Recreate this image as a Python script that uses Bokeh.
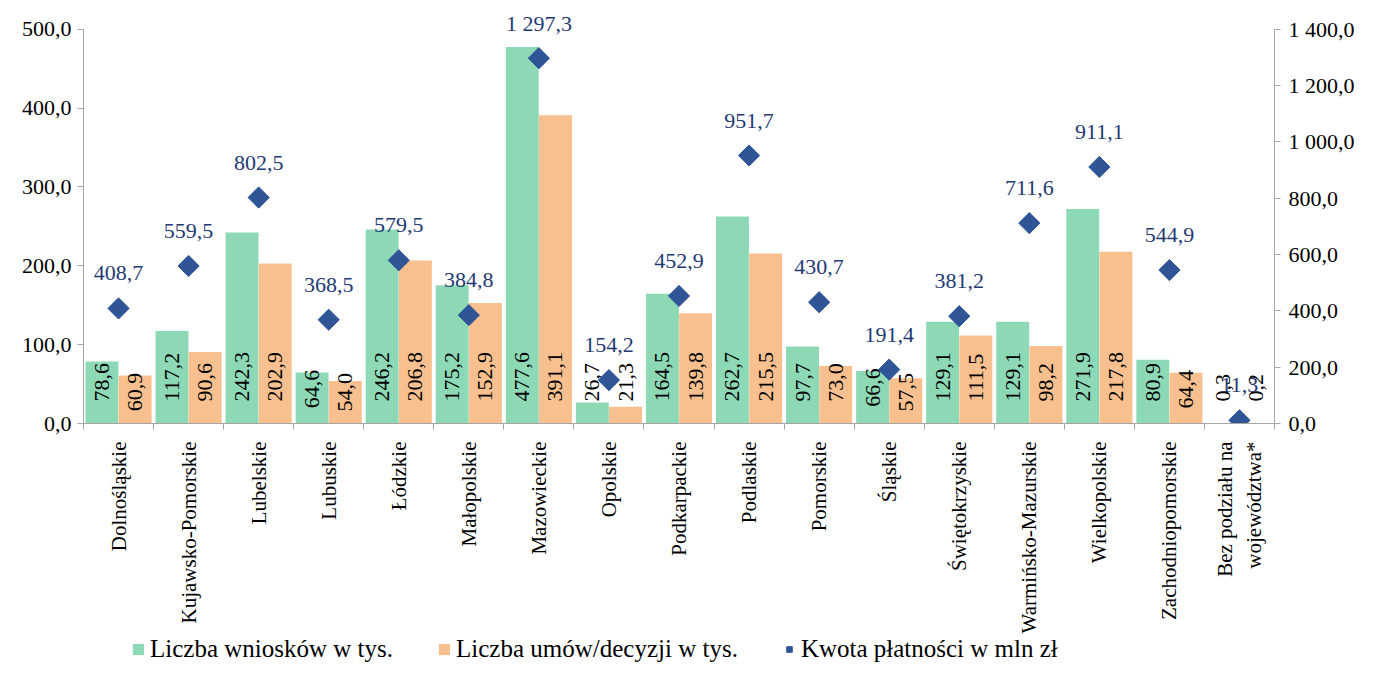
import math
from bokeh.plotting import figure
from bokeh.layouts import column
from bokeh.models import (ColumnDataSource, Range1d, LinearAxis, FixedTicker,
                          Legend, LegendItem)
from bokeh.core.properties import value
from bokeh.embed import file_html
from bokeh.resources import INLINE

categories = ["Dolnośląskie", "Kujawsko-Pomorskie", "Lubelskie", "Lubuskie",
              "Łódzkie", "Małopolskie", "Mazowieckie", "Opolskie",
              "Podkarpackie", "Podlaskie", "Pomorskie", "Śląskie",
              "Świętokrzyskie", "Warmińsko-Mazurskie", "Wielkopolskie",
              "Zachodniopomorskie", "Bez podziału na\nwojewództwa*"]
wnioski = [78.6, 117.2, 242.3, 64.6, 246.2, 175.2, 477.6, 26.7, 164.5, 262.7,
           97.7, 66.6, 129.1, 129.1, 271.9, 80.9, 0.3]
umowy = [60.9, 90.6, 202.9, 54.0, 206.8, 152.9, 391.1, 21.3, 139.8, 215.5,
         73.0, 57.5, 111.5, 98.2, 217.8, 64.4, 0.2]
kwota = [408.7, 559.5, 802.5, 368.5, 579.5, 384.8, 1297.3, 154.2, 452.9, 951.7,
         430.7, 191.4, 381.2, 711.6, 911.1, 544.9, 11.3]
left_ticks = [0, 100, 200, 300, 400, 500]
right_ticks = [0, 200, 400, 600, 800, 1000, 1200, 1400]
series_names = ["Liczba wniosków w tys.", "Liczba umów/decyzji w tys.",
                "Kwota płatności w mln zł"]

FONT = "Liberation Serif"
GREEN = "#8DD9B6"
ORANGE = "#F9C08F"
BLUE = "#2F5597"
NAVY = "#1F3A73"
GREY = "#A6A6A6"

def fmt(v):
    s = f"{v:,.1f}"
    return s.replace(",", " ").replace(".", ",")

n = len(categories)
centers = [i + 0.5 for i in range(n)]
off = 0.237
bw = 0.47

LEFT_MAX = left_ticks[-1]
RIGHT_MAX = right_ticks[-1]
HEAD = 1.073  # head-room above the top tick for the labels
px_per_unit = 396 / LEFT_MAX

def bar_label_offset(v):
    h = v * px_per_unit
    if 38 < h < 58:
        return -max(12.0, h - 36)
    return -22.0

src = ColumnDataSource(dict(
    xg=[c - off for c in centers],
    xo=[c + off for c in centers],
    xc=centers,
    wn=wnioski, um=umowy, kw=kwota,
    wn_t=[fmt(v) for v in wnioski],
    um_t=[fmt(v) for v in umowy],
    kw_t=[fmt(v) for v in kwota],
    zero=[0] * n,
    wn_off=[bar_label_offset(v) for v in wnioski],
    um_off=[bar_label_offset(v) for v in umowy],
))

W = 1357
p = figure(width=W, height=636, output_backend="svg", toolbar_location=None,
           x_range=Range1d(0, n), y_range=Range1d(0, LEFT_MAX * HEAD),
           min_border_left=83, min_border_right=74, min_border_top=0,
           min_border_bottom=10)
p.outline_line_color = None
p.xgrid.visible = False
p.ygrid.visible = False
p.background_fill_color = "white"
p.border_fill_color = "white"
p.extra_y_ranges = {"kw": Range1d(0, RIGHT_MAX * HEAD)}

bar_g = dict(fill_color=GREEN, line_color=None)
bar_o = dict(fill_color=ORANGE, line_color=None)
dia = dict(marker="square", size=15, angle=math.pi / 4, fill_color=BLUE,
           line_color=BLUE)

p.vbar(x="xg", top="wn", width=bw, source=src, **bar_g)
p.vbar(x="xo", top="um", width=bw, source=src, **bar_o)

common = dict(text_font=value(FONT), text_font_size="22px", text_color="#000000")
p.text(x="xg", y="zero", text="wn_t", angle=math.pi / 2, y_offset="wn_off",
       text_align="left", text_baseline="middle", source=src, **common)
p.text(x="xo", y="zero", text="um_t", angle=math.pi / 2, y_offset="um_off",
       text_align="left", text_baseline="middle", source=src, **common)

p.scatter(x="xc", y="kw", source=src, y_range_name="kw", **dia)
p.text(x="xc", y="kw", text="kw_t", source=src, y_range_name="kw",
       y_offset=-35, text_align="center", text_baseline="middle",
       text_font=value(FONT), text_font_size="22px", text_color=NAVY)

def style_axis(ax):
    ax.axis_line_color = GREY
    ax.major_tick_line_color = GREY
    ax.minor_tick_line_color = GREY
    ax.major_label_text_font = FONT
    ax.major_label_text_font_size = "22px"
    ax.major_label_text_color = "#000000"

# x axis
xa = p.xaxis[0]
xa.ticker = FixedTicker(ticks=centers, minor_ticks=list(range(n + 1)))
xa.major_label_overrides = {c: lab for c, lab in zip(centers, categories)}
style_axis(xa)
xa.major_label_text_font_size = "21px"
xa.major_tick_line_color = None
xa.major_tick_out = 0
xa.major_tick_in = 0
xa.minor_tick_out = 6
xa.minor_tick_in = 0
xa.major_label_orientation = math.pi / 2
xa.major_label_standoff = 12

# left axis
ya = p.yaxis[0]
ya.ticker = FixedTicker(ticks=left_ticks)
ya.major_label_overrides = {t: fmt(t) for t in left_ticks}
ya.bounds = (0, LEFT_MAX)
style_axis(ya)
ya.major_tick_out = 6
ya.major_tick_in = 0
ya.minor_tick_line_color = None
ya.major_label_standoff = 6

# right axis
ra = LinearAxis(y_range_name="kw", ticker=FixedTicker(ticks=right_ticks),
                bounds=(0, RIGHT_MAX))
ra.major_label_overrides = {t: fmt(t) for t in right_ticks}
style_axis(ra)
ra.major_tick_out = 6
ra.major_tick_in = 0
ra.minor_tick_line_color = None
ra.major_label_standoff = 8
p.add_layout(ra, "right")

# legend strip (swatch renderers sit outside the visible range)
lg = figure(width=W, height=27, output_backend="svg", toolbar_location=None,
            x_range=Range1d(0, 1), y_range=Range1d(0, 1),
            x_axis_location=None, y_axis_location=None,
            min_border_left=0, min_border_right=0, min_border_top=0,
            min_border_bottom=0)
lg.outline_line_color = None
lg.xgrid.visible = False
lg.ygrid.visible = False
swatch = ColumnDataSource(dict(x=[-10.0], top=[-10.0], y=[-10.0]))
lr_g = lg.vbar(x="x", top="top", width=0.1, source=swatch, **bar_g)
lr_o = lg.vbar(x="x", top="top", width=0.1, source=swatch, **bar_o)
lr_d = lg.scatter(x="x", y="y", source=swatch, **dia)

legend = Legend(items=[LegendItem(label=series_names[0], renderers=[lr_g]),
                       LegendItem(label=series_names[1], renderers=[lr_o]),
                       LegendItem(label=series_names[2], renderers=[lr_d])],
                orientation="horizontal", location=(48, 0),
                label_text_font=FONT, label_text_font_size="25px",
                label_text_color="#000000", label_height=22,
                glyph_width=14, glyph_height=14, label_standoff=5,
                spacing=44, padding=0, margin=0,
                background_fill_alpha=0, border_line_color=None)
lg.add_layout(legend, "center")

layout = column(p, lg, spacing=0)
open("out.html", "w").write(file_html(layout, INLINE))
